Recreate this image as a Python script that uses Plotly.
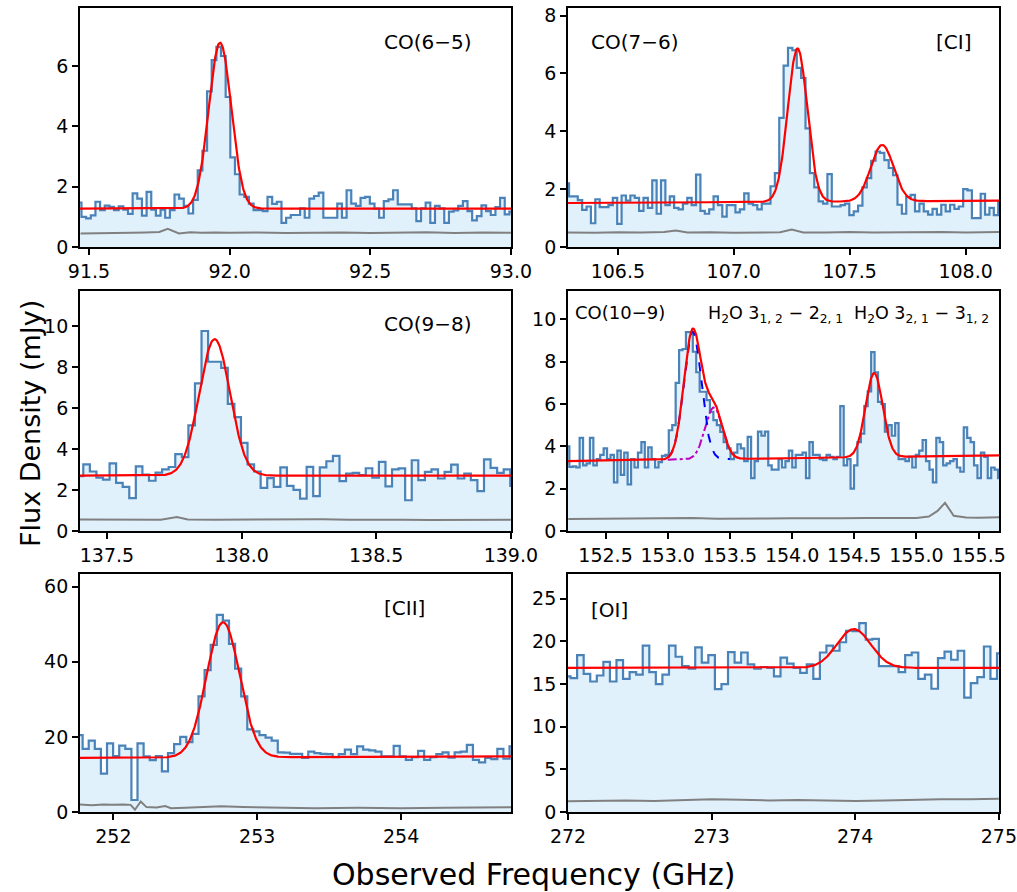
import numpy as np
import plotly.graph_objects as go

# ---------------- CO(6-5) ----------------
co65_chan = [91.465, 93.003]          # first / last channel centre (GHz)
co65_flux = [1.47, 1.0, 0.95, 1.05, 1.5, 1.22, 1.37, 1.33, 1.22, 1.35, 1.24, 1.1, 1.78, 1.6,
             1.04, 1.83, 1.24, 1.04, 1.24, 0.97, 1.22, 1.74, 1.6, 1.36, 1.11, 1.56, 2.54, 3.19,
             5.16, 6.19, 6.63, 6.33, 4.97, 2.97, 2.41, 1.74, 1.66, 1.44, 1.22, 1.22, 1.19, 1.66,
             1.43, 1.5, 0.8, 0.97, 1.06, 1.06, 1.28, 0.97, 1.6, 1.69, 1.8, 0.97, 0.97, 0.97, 1.44,
             0.97, 1.88, 1.44, 1.36, 1.63, 1.66, 1.44, 1.27, 0.97, 1.52, 1.58, 1.88, 1.41, 1.41,
             1.41, 1.28, 0.86, 1.28, 1.47, 0.8, 1.36, 1.28, 0.8, 1.17, 1.21, 1.36, 1.52, 1.19,
             0.88, 1.02, 1.38, 1.19, 1.06, 1.32, 1.63, 1.08, 1.17]
co65_noise_freq = [91.47, 91.55, 91.6, 91.65, 91.7, 91.75, 91.78, 91.82, 91.86, 91.9, 91.95,
                   92.0, 92.1, 92.2, 92.3, 92.4, 92.5, 92.6, 92.7, 92.8, 92.9, 93.0]
co65_noise = [0.45, 0.47, 0.46, 0.47, 0.48, 0.5, 0.6, 0.45, 0.49, 0.47, 0.48, 0.47, 0.48,
              0.46, 0.47, 0.48, 0.46, 0.47, 0.49, 0.46, 0.48, 0.47]
co65_fit_center = [91.966]
co65_fit_amp = [5.5]
co65_fit_sigma = [0.040]
co65_cont = [1.27, 1.27]

# ---------------- CO(7-6) + [CI] ----------------
co76_chan = [106.28, 108.15]
co76_flux = [2.2, 1.75, 1.75, 1.62, 1.28, 1.4, 0.82, 1.65, 1.38, 1.38, 1.45, 1.7, 0.8, 1.78,
             1.6, 1.78, 1.7, 1.25, 1.7, 1.35, 2.3, 1.15, 2.3, 1.45, 1.75, 1.35, 1.3, 1.5, 1.7,
             1.45, 2.5, 1.25, 1.15, 1.3, 1.75, 1.45, 1.05, 1.45, 1.45, 1.2, 1.3, 1.85,
             1.5, 1.45, 1.3, 1.5, 1.5, 2.1, 2.55, 4.46, 6.27, 6.88, 6.8, 6.19, 5.84, 4.1, 2.55,
             2.06, 1.58, 1.5, 2.52, 1.4, 1.4, 1.45, 1.5, 1.1, 1.23, 1.43, 2.06, 2.38, 2.98, 3.3,
             3.25, 3.0, 2.73, 2.48, 1.46, 1.15, 1.73, 1.8, 1.23, 1.5, 1.23, 1.12, 1.32, 1.12,
             1.46, 1.23, 1.46, 1.32, 1.4, 2.0, 1.96, 1.0, 1.0, 1.84, 1.12, 1.35, 1.1, 1.58]
co76_noise_freq = [106.28, 106.4, 106.5, 106.6, 106.7, 106.75, 106.8, 106.9, 107.0, 107.1,
                   107.2, 107.25, 107.3, 107.4, 107.5, 107.6, 107.7, 107.8, 107.9, 108.0, 108.15]
co76_noise = [0.5, 0.49, 0.51, 0.5, 0.52, 0.57, 0.5, 0.51, 0.49, 0.5, 0.51, 0.6, 0.5, 0.5,
              0.52, 0.5, 0.51, 0.5, 0.52, 0.5, 0.52]
co76_fit_center = [107.275, 107.64]
co76_fit_amp = [5.3, 1.95]
co76_fit_sigma = [0.042, 0.049]
co76_cont = [1.52, 1.6]

# ---------------- CO(9-8) ----------------
co98_chan = [137.40, 139.01]
co98_flux = [2.68, 3.25, 2.9, 2.6, 2.5, 3.3, 2.35, 2.15, 1.6, 3.15, 2.75, 2.45, 2.85, 3.0,
             3.12, 3.75, 3.6, 5.15, 7.2, 9.75, 8.25, 8.25, 7.95, 6.2, 5.55, 4.3, 3.25, 2.9, 2.1,
             2.58, 2.15, 3.1, 2.2, 2.0, 1.58, 3.13, 1.7, 3.1, 3.4, 3.66, 2.43, 2.8, 2.83, 2.72,
             3.06, 2.6, 3.37, 2.18, 3.0, 3.05, 1.5, 3.45, 2.48, 2.88, 3.0, 2.56, 2.88, 3.24,
             2.56, 2.8, 2.48, 1.94, 3.49, 3.08, 2.83, 3.0, 2.2]
co98_noise_freq = [137.4, 137.5, 137.6, 137.7, 137.76, 137.8, 137.9, 138.0, 138.1, 138.2,
                   138.3, 138.4, 138.5, 138.6, 138.7, 138.8, 138.9, 139.0]
co98_noise = [0.56, 0.55, 0.56, 0.55, 0.68, 0.56, 0.55, 0.56, 0.55, 0.56, 0.57, 0.55, 0.56,
              0.55, 0.54, 0.55, 0.56, 0.55]
co98_fit_center = [137.90]
co98_fit_amp = [6.65]
co98_fit_sigma = [0.057]
co98_cont = [2.7, 2.7]

# ---------------- CO(10-9) + H2O ----------------
co109_chan = [152.195, 155.67]
co109_flux = [4.0, 3.03, 3.05, 3.0, 4.4, 3.1, 3.2, 4.4, 3.1, 3.4, 3.6, 3.9, 3.4, 3.6, 2.3,
              3.8, 2.65, 3.7, 2.2, 3.4, 3.0, 3.7, 4.2, 3.0, 3.95, 3.4, 3.0, 3.25, 3.55, 3.6,
              4.76, 5.0, 7.0, 8.55, 8.6, 9.4, 9.4, 8.47, 7.5, 6.58, 6.58, 6.18, 5.63, 5.24, 5.0,
              4.68, 4.2, 3.9, 3.4, 3.7, 4.1, 3.9, 3.3, 4.45,
              2.5, 3.3, 4.7, 4.5, 4.7, 3.1, 2.9, 2.9, 3.4, 3.0, 3.3, 3.8, 3.0, 3.6, 3.6, 3.7,
              2.5, 4.2, 3.6, 3.6, 3.4, 3.35, 3.6, 3.5, 3.4, 3.5, 5.9, 3.1, 3.4, 2.0, 3.1, 4.2,
              4.6, 5.9, 6.6, 8.45, 7.5, 6.1, 6.0, 4.7, 5.0, 4.5, 5.1, 3.4, 3.4, 3.3, 3.5, 3.0,
              3.6, 3.8, 4.3, 3.3, 2.9, 2.3, 4.4, 4.2, 3.1, 3.2, 3.3, 3.4, 3.0, 2.8, 4.9, 4.4,
              4.2, 3.1, 2.5, 3.7, 3.5, 2.5, 3.0, 2.9, 2.5]
co109_noise_freq = [152.2, 152.4, 152.6, 152.8, 153.0, 153.2, 153.4, 153.6, 153.8, 154.0,
                    154.2, 154.4, 154.6, 154.8, 155.0, 155.1, 155.17, 155.23, 155.3, 155.4,
                    155.5, 155.67]
co109_noise = [0.57, 0.58, 0.57, 0.59, 0.58, 0.62, 0.58, 0.6, 0.59, 0.6, 0.59, 0.6, 0.61,
               0.6, 0.62, 0.68, 0.95, 1.33, 0.72, 0.64, 0.63, 0.65]
co109_fit_center = [153.20, 153.37, 154.66]
co109_fit_amp = [6.05, 2.45, 3.97]
co109_fit_sigma = [0.07, 0.07, 0.069]
co109_cont = [3.3, 3.57]
co109_comp_range = [153.0, 153.5]

# ---------------- [CII] ----------------
cii_chan = [251.765, 254.775]
cii_flux = [20.5, 16.8, 19.0, 16.8, 10.2, 18.3, 14.9, 17.7, 16.8, 3.2, 18.3, 14.8, 13.8, 14.9,
            10.8, 15.7, 18.1, 20.0, 18.6, 20.8, 30.8, 37.8, 44.5, 52.5, 51.0, 44.8, 38.2, 30.8,
            22.0, 21.5, 20.5, 19.8,
            19.0, 15.9, 15.8, 15.5, 15.5, 14.4, 16.1, 15.7, 15.5, 15.4, 14.6, 15.4, 16.6, 15.4,
            17.5, 16.6, 16.4, 16.1, 14.8, 14.8, 17.6, 14.8, 13.9, 14.6, 16.3, 13.9, 14.6, 15.4,
            15.9, 14.5, 15.9, 16.1, 17.9, 13.9, 13.2, 14.4, 14.1, 16.8, 14.2, 17.5]
cii_noise_freq = [251.76, 251.85, 251.93, 252.0, 252.07, 252.12, 252.15, 252.19, 252.23,
                  252.3, 252.36, 252.4, 252.5, 252.6, 252.75, 252.9, 253.1, 253.4, 253.7,
                  254.0, 254.3, 254.5, 254.77]
cii_noise = [2.0, 1.8, 2.0, 1.9, 2.0, 1.9, 0.6, 2.8, 1.3, 1.2, 1.6, 1.0, 1.15, 1.3, 1.5,
             1.3, 1.1, 1.0, 1.1, 1.0, 1.1, 1.2, 1.3]
cii_fit_center = [252.763]
cii_fit_amp = [36.0]
cii_fit_sigma = [0.115]
cii_cont = [14.4, 14.8]

# ---------------- [OI] ----------------
oi_chan = [271.995, 275.01]
oi_flux = [15.9, 15.7, 18.4, 16.2, 15.3, 16.0, 17.6, 15.3, 17.8, 15.6, 16.4, 16.1, 19.5, 16.4,
           15.0, 16.1, 19.5, 18.2, 17.1, 16.8, 19.3, 17.5, 18.4, 14.4, 15.0, 18.75, 17.5, 18.7,
           17.3,
           16.8, 17.0, 16.9, 15.9, 18.1, 17.4, 16.9, 16.3, 17.3, 15.6, 18.7, 19.5, 18.9, 19.9,
           21.25, 21.2, 22.15, 20.2, 20.3, 17.1, 17.1, 17.1, 16.4, 18.4, 18.7, 15.6, 16.1,
           14.45, 18.05, 18.8, 17.85, 18.9, 13.4, 15.1, 15.8, 19.4, 15.6, 18.6]
oi_noise_freq = [272.0, 272.2, 272.4, 272.6, 272.8, 273.0, 273.2, 273.4, 273.6, 273.8, 274.0,
                 274.2, 274.4, 274.6, 274.8, 275.0]
oi_noise = [1.25, 1.3, 1.35, 1.3, 1.4, 1.5, 1.45, 1.35, 1.4, 1.35, 1.3, 1.35, 1.45, 1.5,
            1.5, 1.55]
oi_fit_center = [273.99]
oi_fit_amp = [4.55]
oi_fit_sigma = [0.118]
oi_cont = [16.9, 16.9]

# ---------------- layout geometry ----------------
W, H = 1017, 892
col_px = [(80, 511), (568, 999)]
row_px = [(8, 247), (291, 531), (574, 812)]

x_ranges = [[91.468, 93.0005], [106.285, 108.144], [137.40, 139.0005],
            [152.198, 155.664], [251.768, 254.764], [272.0, 275.001]]
y_ranges = [[0, 7.92], [0, 8.26], [0, 11.7], [0, 11.34], [0, 63.4], [0, 27.9]]
x_ticks = [[91.5, 92.0, 92.5, 93.0], [106.5, 107.0, 107.5, 108.0],
           [137.5, 138.0, 138.5, 139.0],
           [152.5, 153.0, 153.5, 154.0, 154.5, 155.0, 155.5],
           [252, 253, 254], [272, 273, 274, 275]]
y_ticks = [[0, 2, 4, 6], [0, 2, 4, 6, 8], [0, 2, 4, 6, 8, 10], [0, 2, 4, 6, 8, 10],
           [0, 20, 40, 60], [0, 5, 10, 15, 20, 25]]
x_fmt = [".1f", ".1f", ".1f", ".1f", "d", "d"]

panels = [
    (co65_chan, co65_flux, co65_noise_freq, co65_noise, co65_fit_center, co65_fit_amp,
     co65_fit_sigma, co65_cont),
    (co76_chan, co76_flux, co76_noise_freq, co76_noise, co76_fit_center, co76_fit_amp,
     co76_fit_sigma, co76_cont),
    (co98_chan, co98_flux, co98_noise_freq, co98_noise, co98_fit_center, co98_fit_amp,
     co98_fit_sigma, co98_cont),
    (co109_chan, co109_flux, co109_noise_freq, co109_noise, co109_fit_center, co109_fit_amp,
     co109_fit_sigma, co109_cont),
    (cii_chan, cii_flux, cii_noise_freq, cii_noise, cii_fit_center, cii_fit_amp,
     cii_fit_sigma, cii_cont),
    (oi_chan, oi_flux, oi_noise_freq, oi_noise, oi_fit_center, oi_fit_amp, oi_fit_sigma,
     oi_cont),
]

FONT = "DejaVu Sans"
STEP_COLOR = "rgba(60,120,178,0.92)"
FILL_COLOR = "rgb(225,241,252)"


def continuum(x, xr, cont):
    return cont[0] + (cont[1] - cont[0]) * (x - xr[0]) / (xr[1] - xr[0])


def gauss(x, c, a, s):
    return a * np.exp(-0.5 * ((x - c) / s) ** 2)


fig = go.Figure()
layout = {}

for i, (chan, flux, nf, nv, fc, fa, fs, cont) in enumerate(panels):
    r, c = divmod(i, 2)
    n = i + 1
    xa = "x" if n == 1 else f"x{n}"
    ya = "y" if n == 1 else f"y{n}"
    xr = x_ranges[i]

    freq = np.linspace(chan[0], chan[1], len(flux))
    fig.add_trace(go.Scatter(x=freq, y=flux, mode="lines", line_shape="hvh",
                             line=dict(color=STEP_COLOR, width=2.2), fill="tozeroy",
                             fillcolor=FILL_COLOR, xaxis=xa, yaxis=ya, showlegend=False,
                             hoverinfo="skip"))
    fig.add_trace(go.Scatter(x=nf, y=nv, mode="lines", line=dict(color="rgb(128,128,128)",
                             width=2), xaxis=xa, yaxis=ya, showlegend=False,
                             hoverinfo="skip"))

    xm = np.linspace(xr[0], xr[1], 800)
    base = continuum(xm, xr, cont)
    model = base.copy()
    for cc, aa, ss in zip(fc, fa, fs):
        model = model + gauss(xm, cc, aa, ss)

    if i == 3:
        # individual components of the CO(10-9) / H2O blend
        xc = np.linspace(co109_comp_range[0], co109_comp_range[1], 200)
        bc = continuum(xc, xr, cont)
        fig.add_trace(go.Scatter(x=xc, y=bc + gauss(xc, fc[1], fa[1], fs[1]), mode="lines",
                                 line=dict(color="rgb(190,0,190)", width=2, dash="dashdot"),
                                 xaxis=xa, yaxis=ya, showlegend=False, hoverinfo="skip"))
        fig.add_trace(go.Scatter(x=xc, y=bc + gauss(xc, fc[0], fa[0], fs[0]), mode="lines",
                                 line=dict(color="rgb(0,0,255)", width=2, dash="dash"),
                                 xaxis=xa, yaxis=ya, showlegend=False, hoverinfo="skip"))

    fig.add_trace(go.Scatter(x=xm, y=model, mode="lines", line=dict(color="rgb(255,0,0)",
                             width=2.2), xaxis=xa, yaxis=ya, showlegend=False,
                             hoverinfo="skip"))

    x0, x1 = col_px[c]
    y0, y1 = row_px[r]
    axis_common = dict(showline=True, linecolor="black", linewidth=1.8, mirror=True,
                       ticks="outside", ticklen=6, tickwidth=1.6, tickcolor="black",
                       showgrid=False, zeroline=False, automargin=False,
                       tickfont=dict(family=FONT, size=19, color="black"))
    layout["xaxis" if n == 1 else f"xaxis{n}"] = dict(
        axis_common, domain=[x0 / W, x1 / W], range=xr, tickvals=x_ticks[i],
        tickformat=x_fmt[i], anchor=ya)
    layout["yaxis" if n == 1 else f"yaxis{n}"] = dict(
        axis_common, domain=[1 - y1 / H, 1 - y0 / H], range=y_ranges[i], tickvals=y_ticks[i],
        anchor=xa)

labels = [
    ("CO(6\u22125)", 428, 42, 20),
    ("CO(7\u22126)", 635, 42, 20),
    ("[CI]", 953, 42, 20),
    ("CO(9\u22128)", 428, 324, 20),
    ("CO(10\u22129)", 620, 313, 18),
    ("H<sub>2</sub>O 3<sub>1, 2</sub> \u2212 2<sub>2, 1</sub>", 775, 314, 17.5),
    ("H<sub>2</sub>O 3<sub>2, 1</sub> \u2212 3<sub>1, 2</sub>", 921, 314, 17.5),
    ("[CII]", 404, 608, 20),
    ("[OI]", 609, 610, 20),
]
annotations = []
for txt, px, py, fsz in labels:
    annotations.append(dict(text=txt, x=px / W, y=1 - py / H, xref="paper", yref="paper",
                            showarrow=False, xanchor="center", yanchor="middle",
                            font=dict(family=FONT, size=fsz, color="black")))
annotations.append(dict(text="Flux Density (mJy)", x=30 / W, y=1 - 424 / H, xref="paper",
                        yref="paper", showarrow=False, textangle=-90, xanchor="center",
                        yanchor="middle", font=dict(family=FONT, size=27, color="black")))
annotations.append(dict(text="Observed Frequency (GHz)", x=533 / W, y=1 - 874 / H,
                        xref="paper", yref="paper", showarrow=False, xanchor="center",
                        yanchor="middle", font=dict(family=FONT, size=30, color="black")))

fig.update_layout(width=W, height=H, margin=dict(l=0, r=0, t=0, b=0),
                  paper_bgcolor="white", plot_bgcolor="white", annotations=annotations,
                  **layout)
fig.write_html("out.html")
